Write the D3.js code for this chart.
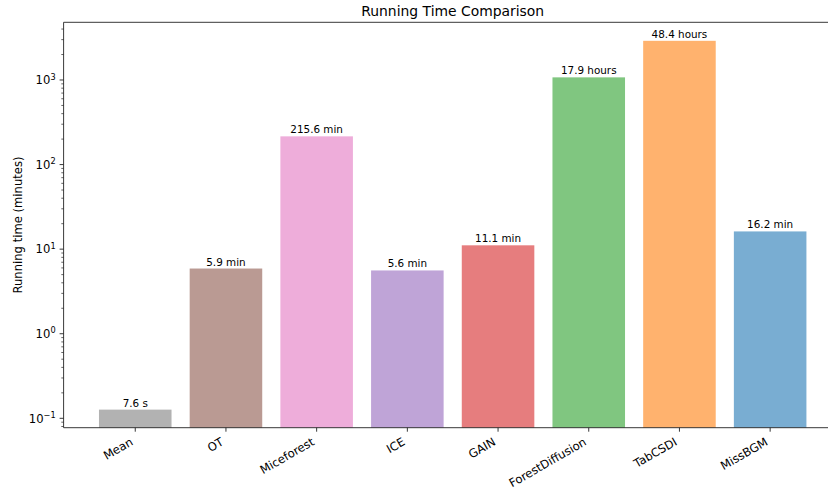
<!DOCTYPE html>
<html>
<head>
<meta charset="utf-8">
<script src="https://cdn.jsdelivr.net/npm/d3@7"></script>
<style>
  html, body { margin: 0; padding: 0; background: #fff; }
  svg { display: block; font-family: "DejaVu Sans", sans-serif; }
</style>
</head>
<body>
<svg id="chart" width="828" height="494"></svg>
<script>
// Methods and their running times, in minutes
const methods = ["Mean", "OT", "Miceforest", "ICE", "GAIN", "ForestDiffusion", "TabCSDI", "MissBGM"];
const minutes = [7.6 / 60, 5.9, 215.6, 5.6, 11.1, 17.9 * 60, 48.4 * 60, 16.2];
const valueLabels = ["7.6 s", "5.9 min", "215.6 min", "5.6 min", "11.1 min", "17.9 hours", "48.4 hours", "16.2 min"];
const barColors = ["#7f7f7f", "#8c564b", "#e377c2", "#9467bd", "#d62728", "#2ca02c", "#ff7f0e", "#1f77b4"];
const yTickExponents = [-1, 0, 1, 2, 3];

const W = 828, H = 494;
const plot = { left: 63.6, right: 841.8, top: 22.3, bottom: 427.7 };

const svg = d3.select("#chart");

// Category positions: bar centres with matplotlib-like outer margins
const x = d3.scalePoint()
  .domain(methods)
  .range([plot.left, plot.right])
  .padding(0.79);
const step = x.step();
const barW = step * 0.8;

const y = d3.scaleLog()
  .domain([Math.pow(10, -1.111), Math.pow(10, 3.682)])
  .range([plot.bottom, plot.top]);

// Bars
svg.append("g").selectAll("rect")
  .data(methods)
  .join("rect")
  .attr("x", d => x(d) - barW / 2)
  .attr("width", barW)
  .attr("y", (d, i) => y(minutes[i]))
  .attr("height", (d, i) => plot.bottom - y(minutes[i]))
  .attr("fill", (d, i) => barColors[i])
  .attr("fill-opacity", 0.6);

// Value annotations above bars
svg.append("g").selectAll("text")
  .data(methods)
  .join("text")
  .attr("x", d => x(d))
  .attr("y", (d, i) => y(minutes[i]) - 3)
  .attr("text-anchor", "middle")
  .attr("font-size", "10.4px")
  .attr("fill", "#000")
  .text((d, i) => valueLabels[i]);

// Y axis: minor ticks
const minorTicks = [];
for (let e = -2; e <= 3; e++) {
  for (let m = 2; m <= 9; m++) {
    const v = m * Math.pow(10, e);
    if (v >= y.domain()[0] && v <= y.domain()[1]) minorTicks.push(v);
  }
}
const axisColor = "#222";
svg.append("g").selectAll("line")
  .data(minorTicks)
  .join("line")
  .attr("x1", plot.left - 2.3)
  .attr("x2", plot.left)
  .attr("y1", d => y(d))
  .attr("y2", d => y(d))
  .attr("stroke", axisColor)
  .attr("stroke-width", 0.7);

// Y axis: major ticks and labels
const yMajor = svg.append("g");
yTickExponents.forEach(e => {
  const v = Math.pow(10, e);
  const yy = y(v);
  yMajor.append("line")
    .attr("x1", plot.left - 4)
    .attr("x2", plot.left)
    .attr("y1", yy)
    .attr("y2", yy)
    .attr("stroke", axisColor)
    .attr("stroke-width", 0.9);
  const t = yMajor.append("text")
    .attr("x", plot.left - 8)
    .attr("y", yy + 4.2)
    .attr("text-anchor", "end")
    .attr("font-size", "11.6px")
    .attr("fill", "#000");
  t.append("tspan").text("10");
  t.append("tspan")
    .attr("dy", -4.6)
    .attr("font-size", "8.2px")
    .text(e < 0 ? "\u2212" + Math.abs(e) : String(e));
});

// X axis ticks and rotated labels
const xAxisG = svg.append("g");
methods.forEach(m => {
  const cx = x(m);
  xAxisG.append("line")
    .attr("x1", cx).attr("x2", cx)
    .attr("y1", plot.bottom).attr("y2", plot.bottom + 4)
    .attr("stroke", axisColor)
    .attr("stroke-width", 0.9);
  xAxisG.append("text")
    .attr("transform", `translate(${cx - 1.5},${plot.bottom + 16.5}) rotate(-30)`)
    .attr("text-anchor", "end")
    .attr("font-size", "11.6px")
    .attr("fill", "#000")
    .text(m);
});

// Spines: left, bottom and top (right edge lies beyond the canvas)
svg.append("line")
  .attr("x1", plot.left).attr("x2", plot.left)
  .attr("y1", plot.top).attr("y2", plot.bottom)
  .attr("stroke", axisColor).attr("stroke-width", 0.9);
svg.append("line")
  .attr("x1", plot.left).attr("x2", plot.right)
  .attr("y1", plot.bottom).attr("y2", plot.bottom)
  .attr("stroke", axisColor).attr("stroke-width", 0.9);
svg.append("line")
  .attr("x1", plot.left).attr("x2", plot.right)
  .attr("y1", plot.top).attr("y2", plot.top)
  .attr("stroke", axisColor).attr("stroke-width", 0.9);

// Axis title and chart title
svg.append("text")
  .attr("transform", `translate(21.5,${(plot.top + plot.bottom) / 2}) rotate(-90)`)
  .attr("text-anchor", "middle")
  .attr("font-size", "11.6px")
  .attr("fill", "#000")
  .text("Running time (minutes)");

svg.append("text")
  .attr("x", (plot.left + plot.right) / 2)
  .attr("y", plot.top - 6.5)
  .attr("text-anchor", "middle")
  .attr("font-size", "13.9px")
  .attr("fill", "#000")
  .text("Running Time Comparison");
</script>
</body>
</html>
